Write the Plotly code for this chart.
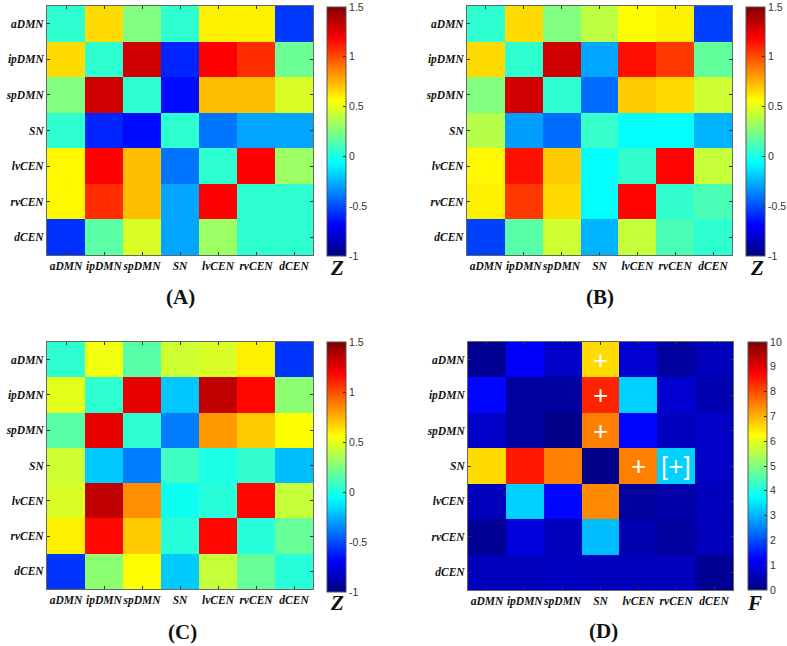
import plotly.graph_objects as go

labels = ["aDMN", "ipDMN", "spDMN", "SN", "lvCEN", "rvCEN", "dCEN"]

z_a = [
    [0.05, 0.65, 0.25, 0.05, 0.60, 0.60, -0.55],
    [0.65, 0.05, 1.30, -0.60, 1.19, 1.08, 0.20],
    [0.25, 1.30, 0.05, -0.66, 0.72, 0.72, 0.47],
    [0.05, -0.60, -0.66, 0.05, -0.40, -0.28, -0.28],
    [0.58, 1.19, 0.72, -0.40, 0.05, 1.19, 0.32],
    [0.58, 1.08, 0.72, -0.28, 1.19, 0.05, 0.05],
    [-0.57, 0.16, 0.47, -0.28, 0.32, 0.05, 0.05],
]

z_b = [
    [0.05, 0.65, 0.25, 0.40, 0.56, 0.60, -0.53],
    [0.65, 0.05, 1.30, -0.28, 1.15, 1.05, 0.18],
    [0.25, 1.30, 0.05, -0.42, 0.69, 0.65, 0.44],
    [0.38, -0.30, -0.42, 0.07, -0.06, -0.06, -0.25],
    [0.58, 1.15, 0.69, -0.06, 0.06, 1.18, 0.42],
    [0.60, 1.05, 0.65, -0.06, 1.18, 0.06, 0.12],
    [-0.53, 0.15, 0.44, -0.25, 0.42, 0.12, 0.05],
]

z_c = [
    [0.05, 0.53, 0.15, 0.44, 0.47, 0.60, -0.56],
    [0.50, 0.05, 1.25, -0.20, 1.34, 1.17, 0.28],
    [0.15, 1.25, 0.05, -0.38, 0.81, 0.69, 0.56],
    [0.44, -0.19, -0.38, 0.09, 0.00, 0.06, -0.22],
    [0.47, 1.34, 0.84, -0.03, 0.03, 1.17, 0.42],
    [0.60, 1.17, 0.69, 0.03, 1.17, 0.03, 0.19],
    [-0.56, 0.28, 0.56, -0.19, 0.42, 0.19, 0.03],
]

f_d = [
    [0.2, 1.2, 0.7, 6.6, 0.8, 0.3, 0.6],
    [1.3, 0.3, 0.3, 8.4, 3.3, 0.8, 0.5],
    [0.7, 0.3, 0.1, 7.5, 1.3, 0.6, 0.7],
    [6.6, 8.5, 7.5, 0.1, 7.5, 3.3, 0.7],
    [0.6, 3.3, 1.3, 7.4, 0.3, 0.4, 0.6],
    [0.2, 0.9, 0.6, 3.1, 0.5, 0.3, 0.6],
    [0.6, 0.6, 0.65, 0.6, 0.6, 0.6, 0.2],
]

marks_d = [("aDMN", "SN", "+"), ("ipDMN", "SN", "+"), ("spDMN", "SN", "+"),
           ("SN", "lvCEN", "+"), ("SN", "rvCEN", "[+]")]

z_ticks = [-1, -0.5, 0, 0.5, 1, 1.5]
f_ticks = list(range(0, 11))

jet = [[0.0, "rgb(0,0,128)"], [0.125, "rgb(0,0,255)"], [0.375, "rgb(0,255,255)"],
       [0.625, "rgb(255,255,0)"], [0.875, "rgb(255,0,0)"], [1.0, "rgb(128,0,0)"]]

W, H = 787, 646
def px_x(v): return v / W
def px_y(v): return 1 - v / H

panels = [
    (z_a, -1, 1.5, z_ticks, (47, 313, 6, 255), 327, (7, 256), "(A)", "Z", (180, 297), (337, 268)),
    (z_b, -1, 1.5, z_ticks, (467, 732, 6, 255), 746, (7, 256), "(B)", "Z", (600, 297), (757, 268)),
    (z_c, -1, 1.5, z_ticks, (47, 313, 342, 589), 327, (342, 592), "(C)", "Z", (182, 632), (337, 603)),
    (f_d, 0, 10, f_ticks, (468, 733, 342, 590), 748, (342, 590), "(D)", "F", (603, 631), (754, 603)),
]

fig = go.Figure()
annotations = []
serif = "Liberation Serif, Times New Roman, serif"
idx = list(range(len(labels)))

for i, (z, zmin, zmax, ticks, box, cbx, cby, letter, cblab, letpos, cbpos) in enumerate(panels):
    n = i + 1
    xa = "x" if n == 1 else f"x{n}"
    ya = "y" if n == 1 else f"y{n}"
    fig.add_trace(go.Heatmap(
        z=z, x=idx, y=idx, zmin=zmin, zmax=zmax, colorscale=jet, xaxis=xa, yaxis=ya,
        hoverinfo="skip",
        colorbar=dict(x=px_x(cbx), xanchor="left", xpad=0, thickness=19, thicknessmode="pixels",
                      y=px_y(cby[0]), yanchor="top", ypad=0, len=(cby[1] - cby[0]) / H, lenmode="fraction",
                      outlinewidth=1, outlinecolor="#555",
                      tickvals=ticks, ticktext=[str(t) for t in ticks], ticks="inside", ticklen=3,
                      tickcolor="#333",
                      tickfont=dict(family="Liberation Sans, Arial, sans-serif", size=10.5, color="#333")),
    ))
    x0, x1, y0, y1 = box
    axcommon = dict(showgrid=False, zeroline=False, showline=True, linecolor="#666", linewidth=1,
                    mirror="ticks", ticks="inside", ticklen=3, tickcolor="#333",
                    tickvals=idx, ticktext=["<b><i>%s</i></b>" % l for l in labels],
                    tickfont=dict(family=serif, size=11.5, color="#111"))
    fig.update_layout(**{
        ("xaxis" if n == 1 else f"xaxis{n}"): dict(domain=[px_x(x0), px_x(x1)], anchor=ya,
                                                   range=[-0.5, 6.5], tickangle=0, **axcommon),
        ("yaxis" if n == 1 else f"yaxis{n}"): dict(domain=[px_y(y1), px_y(y0)], anchor=xa,
                                                   range=[6.5, -0.5], **axcommon),
    })
    annotations.append(dict(text="<b>%s</b>" % letter, x=px_x(letpos[0]), y=px_y(letpos[1]),
                            xref="paper", yref="paper", showarrow=False,
                            xanchor="center", yanchor="middle",
                            font=dict(family=serif, size=21, color="#111")))
    annotations.append(dict(text="<b><i>%s</i></b>" % cblab, x=px_x(cbpos[0]), y=px_y(cbpos[1]),
                            xref="paper", yref="paper", showarrow=False,
                            xanchor="center", yanchor="middle",
                            font=dict(family=serif, size=21, color="#111")))

for r, c, t in marks_d:
    annotations.append(dict(text=t, x=labels.index(c), y=labels.index(r), xref="x4", yref="y4",
                            showarrow=False,
                            font=dict(family="Liberation Sans, Arial, sans-serif", size=26, color="white")))

fig.update_layout(width=W, height=H, margin=dict(l=0, r=0, t=0, b=0, autoexpand=False),
                  paper_bgcolor="white", plot_bgcolor="white", annotations=annotations,
                  showlegend=False)

fig.write_html("out.html", config={"displayModeBar": False},
               post_script="document.body.style.margin='0px';")
